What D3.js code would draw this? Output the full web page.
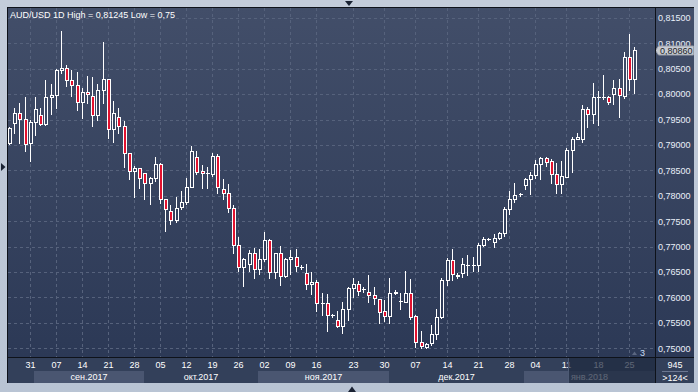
<!DOCTYPE html>
<html><head><meta charset="utf-8">
<script src="https://cdn.jsdelivr.net/npm/d3@7"></script>
<style>html,body{margin:0;padding:0;background:#bfc9d8;overflow:hidden}svg{display:block}</style>
</head><body><svg id="c" width="698" height="392"></svg>
<script>
// ---- data (AUD/USD daily candles) ----
const open = [
0.79033,0.79439,0.79623,0.79505,0.79033,0.79446,0.79584,0.79413,0.79938,0.79977,
0.80475,0.80508,0.80272,0.80174,0.79839,0.80043,0.79957,0.79584,0.80075,0.80292,
0.79308,0.79557,0.79374,0.78836,0.78482,0.78541,0.78443,0.78246,0.78344,0.78620,
0.77931,0.77695,0.77518,0.77774,0.77872,0.78180,0.78758,0.78495,0.78440,0.78430,
0.78784,0.78128,0.78049,0.77754,0.77026,0.76594,0.76653,0.76869,0.76554,0.76751,
0.77125,0.76495,0.76869,0.76430,0.76751,0.76804,0.76607,0.76476,0.76259,0.76299,
0.75886,0.75886,0.75663,0.75558,0.75446,0.75774,0.76181,0.76259,0.76161,0.76102,
0.76043,0.75964,0.75735,0.75630,0.76082,0.75931,0.75918,0.76082,0.75636,0.75118,
0.75033,0.75099,0.75276,0.75610,0.76345,0.76738,0.76430,0.76476,0.76646,0.76646,
0.76646,0.77026,0.77151,0.77085,0.77164,0.77263,0.77735,0.77931,0.78030,0.78207,
0.78325,0.78403,0.78626,0.78751,0.78685,0.78423,0.78226,0.78377,0.78902,0.79118,
0.79125,0.79702,0.79603,0.79951,0.79944,0.79951,0.79997,0.80128,0.79971,0.80725,
0.80305];
const high = [
0.79361,0.79721,0.79820,0.79938,0.79492,0.79951,0.79728,0.80279,0.80200,0.80489,
0.81245,0.80574,0.80475,0.80430,0.80115,0.80357,0.80338,0.80200,0.81026,0.80305,
0.79866,0.79728,0.79472,0.78849,0.78587,0.78554,0.78456,0.78377,0.78771,0.78639,
0.77944,0.77813,0.77977,0.78095,0.78351,0.78980,0.78876,0.78600,0.78574,0.78849,
0.78823,0.78325,0.78233,0.77813,0.77184,0.76777,0.76935,0.76981,0.76948,0.77289,
0.77151,0.76882,0.77013,0.76771,0.76935,0.76948,0.76646,0.76659,0.76495,0.76345,
0.76082,0.76069,0.75676,0.75735,0.75918,0.76213,0.76377,0.76325,0.76213,0.76443,
0.76200,0.75970,0.75951,0.76390,0.76148,0.76082,0.76522,0.76358,0.75650,0.75341,
0.75112,0.75459,0.75768,0.76390,0.76771,0.76948,0.76489,0.76777,0.76836,0.76804,
0.77079,0.77197,0.77164,0.77243,0.77295,0.77774,0.78095,0.78246,0.78049,0.78344,
0.78476,0.78705,0.78771,0.78771,0.78725,0.78639,0.78685,0.78948,0.79164,0.79230,
0.79787,0.79754,0.80226,0.80062,0.80377,0.79964,0.80279,0.80292,0.80823,0.81184,
0.80934];
const low = [
0.79020,0.79230,0.79046,0.78889,0.78692,0.79197,0.79400,0.79400,0.79610,0.79734,
0.80410,0.80167,0.79971,0.79689,0.79531,0.79833,0.79374,0.79492,0.79820,0.79131,
0.79066,0.79230,0.78574,0.78338,0.77984,0.78148,0.77938,0.77846,0.78298,0.77853,
0.77315,0.77446,0.77479,0.77735,0.77846,0.78167,0.78423,0.78161,0.78161,0.78390,
0.78056,0.77944,0.77689,0.76882,0.76528,0.76233,0.76528,0.76390,0.76463,0.76712,
0.76377,0.76390,0.76246,0.76397,0.76463,0.76528,0.76561,0.76161,0.76069,0.75741,
0.75656,0.75348,0.75623,0.75413,0.75309,0.75558,0.76017,0.76049,0.76108,0.75918,
0.75872,0.75505,0.75538,0.75505,0.76069,0.75781,0.75905,0.75571,0.75033,0.75000,
0.75013,0.75066,0.75177,0.75597,0.76246,0.76345,0.76390,0.76410,0.76443,0.76528,
0.76528,0.77020,0.77125,0.77000,0.77151,0.77217,0.77636,0.77872,0.78003,0.78135,
0.78036,0.78344,0.78331,0.78594,0.78246,0.78062,0.78062,0.78364,0.78476,0.79112,
0.79059,0.79361,0.79426,0.79394,0.79905,0.79807,0.79807,0.79557,0.79931,0.80082,
0.80030];
const close = [
0.79328,0.79623,0.79505,0.79013,0.79446,0.79702,0.79420,0.79938,0.79977,0.80475,
0.80508,0.80272,0.80174,0.79839,0.80043,0.80003,0.79584,0.80075,0.80292,0.79308,
0.79623,0.79374,0.78836,0.78482,0.78541,0.78344,0.78246,0.78344,0.78620,0.77931,
0.77735,0.77518,0.77754,0.77872,0.78180,0.78876,0.78476,0.78443,0.78440,0.78784,
0.78167,0.78049,0.77754,0.77026,0.76594,0.76751,0.76869,0.76554,0.76751,0.77125,
0.76495,0.76869,0.76430,0.76751,0.76804,0.76620,0.76607,0.76266,0.76299,0.75886,
0.75886,0.75649,0.75663,0.75446,0.75774,0.76181,0.76259,0.76135,0.76161,0.76043,
0.75984,0.75722,0.75630,0.76082,0.76115,0.75931,0.76082,0.75623,0.75118,0.75040,
0.75092,0.75276,0.75610,0.76345,0.76738,0.76456,0.76450,0.76653,0.76646,0.76646,
0.77026,0.77151,0.77151,0.77164,0.77263,0.77735,0.77931,0.78017,0.78030,0.78325,
0.78403,0.78626,0.78751,0.78659,0.78423,0.78226,0.78390,0.78902,0.79118,0.79151,
0.79702,0.79603,0.79938,0.79951,0.79944,0.79839,0.80128,0.79977,0.80725,0.80305,
0.80860];
const priceTicks = [0.750,0.755,0.760,0.765,0.770,0.775,0.780,0.785,0.790,0.795,0.800,0.805,0.810,0.815];
const dayIdx    = [4,9,14,19,24,29,34,39,44,49,54,59,66,72,78,84,90,96,101,107,113,119];
const dayLabels = ["31","07","14","21","28","05","12","19","26","02","09","16","23","30","07","14","21","28","04","11","18","25"];
const monthStartIdx = [5,26,48,73,99];
const monthLabels = ["сен.2017","окт.2017","ноя.2017","дек.2017","янв.2018"];
const titleText = "AUD/USD 1D High = 0,81245 Low = 0,75";
const totalBars = "945", visibleBars = ">124<";

// ---- layout ----
const PL=8, PR=655, PT=8, PB=357, AR=694, AB=383;
const FONT="'Liberation Sans', Arial, sans-serif";
const svg=d3.select("#c");
const defs=svg.append("defs");
const grad=defs.append("linearGradient").attr("id","bg").attr("gradientUnits","userSpaceOnUse")
  .attr("x1",0).attr("y1",PT).attr("x2",0).attr("y2",PB);
grad.append("stop").attr("offset","0").attr("stop-color","#424e69");
grad.append("stop").attr("offset","1").attr("stop-color","#2c3956");
const fgrad=defs.append("linearGradient").attr("id","frame").attr("x1",0).attr("y1",0).attr("x2",0).attr("y2",1);
fgrad.append("stop").attr("offset","0").attr("stop-color","#c3ccda");
fgrad.append("stop").attr("offset","1").attr("stop-color","#b9c4d4");
defs.append("clipPath").attr("id","clip").append("rect").attr("x",PL).attr("y",PT).attr("width",PR-PL).attr("height",PB-PT);
defs.append("clipPath").attr("id","clipx").append("rect").attr("x",PL).attr("y",PB).attr("width",PR-PL).attr("height",AB-PB);

svg.append("rect").attr("width",698).attr("height",392).attr("fill","url(#frame)");
// dark chart border
svg.append("rect").attr("x",PL-1).attr("y",PT-1).attr("width",AR-PL+1).attr("height",AB-PT+1).attr("fill","#0e121a");
// plot & right panel
svg.append("rect").attr("x",PL).attr("y",PT).attr("width",PR-PL).attr("height",PB-PT).attr("fill","url(#bg)");
svg.append("rect").attr("x",PR+1).attr("y",PT).attr("width",AR-PR-1).attr("height",PB-PT).attr("fill","url(#bg)");
// bottom axis & corner
svg.append("rect").attr("x",PL).attr("y",PB+1).attr("width",PR-PL).attr("height",AB-PB-1).attr("fill","#33405a");
svg.append("rect").attr("x",PR+1).attr("y",PB+1).attr("width",AR-PR-1).attr("height",AB-PB-1).attr("fill","#33405a");

const n=open.length;
const x=d3.scaleLinear().domain([0,n-1]).range([8.9, 8.9+5.211*(n-1)]);
const y=d3.scaleLinear().domain([0.75,0.815]).range([348.3,17.9]);
const fmt=v=>d3.format(".5f")(v).replace(".",",");

// grid
const grid=svg.append("g").attr("stroke","#56627c").attr("stroke-width",1).attr("stroke-dasharray","3,3").attr("shape-rendering","crispEdges");
grid.selectAll("line.h").data(priceTicks).join("line").attr("class","h")
  .attr("x1",PL).attr("x2",PR).attr("y1",d=>Math.round(y(d))+0.5).attr("y2",d=>Math.round(y(d))+0.5);
grid.selectAll("line.v").data(dayIdx).join("line").attr("class","v")
  .attr("x1",d=>Math.round(x(d))+0.5).attr("x2",d=>Math.round(x(d))+0.5).attr("y1",PT).attr("y2",PB);

// candles
const cg=svg.append("g").attr("clip-path","url(#clip)").attr("shape-rendering","crispEdges");
const cs=cg.selectAll("g").data(d3.range(n)).join("g");
cs.append("line")
  .attr("x1",i=>Math.round(x(i))+0.5).attr("x2",i=>Math.round(x(i))+0.5)
  .attr("y1",i=>Math.round(y(high[i]))).attr("y2",i=>Math.round(y(low[i]))+1)
  .attr("stroke","#ffffff").attr("stroke-width",1);
cs.each(function(i){
  const g=d3.select(this);
  const px=Math.round(x(i));
  const yo=y(open[i]), yc=y(close[i]);
  const top=Math.round(Math.min(yo,yc)), bot=Math.round(Math.max(yo,yc));
  const bear=close[i]<open[i];
  if(bot-top>=2){
    g.append("rect").attr("x",px-0.5).attr("y",top+0.5).attr("width",3).attr("height",bot-top)
      .attr("fill",bear?"#e2122f":"url(#bg)").attr("stroke","#ffffff").attr("stroke-width",1);
  } else {
    g.append("rect").attr("x",px-1).attr("y",top).attr("width",4).attr("height",bot-top+1).attr("fill","#ffffff");
  }
});

// title
svg.append("text").attr("x",10).attr("y",17.5).attr("font-family",FONT).attr("font-size",9)
  .attr("fill","#ffffff").text(titleText);

// right axis labels
svg.append("g").selectAll("text").data(priceTicks).join("text")
  .attr("x",658).attr("y",d=>y(d)+3.3).attr("font-family",FONT).attr("font-size",9)
  .attr("fill","#eaf0fa").text(d=>fmt(d));

// current price tag
const yp=Math.round(y(close[n-1]))+0.5;
svg.append("path").attr("d",`M${PR+0.5},${yp} L${PR+3.5},${yp-4.5} L${AR-0.5},${yp-4.5} L${AR-0.5},${yp+4.5} L${PR+3.5},${yp+4.5} Z`)
  .attr("fill","#c7cbd3").attr("stroke","#9aa0aa").attr("stroke-width",1);
svg.append("text").attr("x",660).attr("y",yp+3.3).attr("font-family",FONT).attr("font-size",9)
  .attr("fill","#1b1f27").text(fmt(close[n-1]));

// bottom axis month bands
const xg=svg.append("g").attr("clip-path","url(#clipx)");
const bands=monthStartIdx.map((s,k)=>{
  const x0=Math.round(x(s)-0.6);
  const x1=k<monthStartIdx.length-1?Math.round(x(monthStartIdx[k+1])-0.6):PR;
  return {x0,x1:Math.min(x1,PR),label:monthLabels[k],light:k%2===0};
});
xg.selectAll("rect.band").data(bands.filter(b=>b.light)).join("rect").attr("class","band")
  .attr("x",b=>b.x0).attr("y",371).attr("width",b=>b.x1-b.x0).attr("height",AB-371).attr("fill","#4a5671");
xg.selectAll("text.m").data(bands).join("text").attr("class","m")
  .attr("x",b=>(b.x0+b.x1)/2).attr("y",379.5).attr("text-anchor","middle")
  .attr("font-family",FONT).attr("font-size",9).attr("fill","#ffffff").text(b=>b.label);
xg.selectAll("text.d").data(dayIdx).join("text").attr("class","d")
  .attr("x",d=>Math.round(x(d))+0.5).attr("y",368.3).attr("text-anchor","middle")
  .attr("font-family",FONT).attr("font-size",9).attr("fill","#ffffff").text((d,k)=>dayLabels[k]);
// scroll overlay region
svg.append("rect").attr("x",568).attr("y",PB+1).attr("width",PR-568).attr("height",AB-PB-1)
  .attr("fill","#1f2a40").attr("opacity",0.72);
svg.append("line").attr("x1",568.5).attr("x2",568.5).attr("y1",PB+1).attr("y2",AB)
  .attr("stroke","#4d5a74").attr("stroke-width",1);

// corner info
svg.append("text").attr("x",675).attr("y",368).attr("text-anchor","middle").attr("font-family",FONT)
  .attr("font-size",9).attr("fill","#ffffff").text(totalBars);
svg.append("line").attr("x1",662).attr("x2",688).attr("y1",371.5).attr("y2",371.5).attr("stroke","#6b7791");
svg.append("text").attr("x",675).attr("y",380.8).attr("text-anchor","middle").attr("font-family",FONT)
  .attr("font-size",9).attr("fill","#ffffff").text(visibleBars);

// small marker "3"
svg.append("path").attr("d","M632,355 L634.5,351.5 L637,355 Z").attr("fill","#5b6781");
svg.append("text").attr("x",640).attr("y",355.5).attr("font-family",FONT).attr("font-size",9)
  .attr("fill","#c9dcf5").text("3");

// frame arrows
svg.append("path").attr("d","M345,1 L353,1 L349,6 Z").attr("fill","#1a2233");
svg.append("path").attr("d","M348,392 L356,392 L352,386.5 Z").attr("fill","#1a2233");
svg.append("path").attr("d","M1,163 L1,171 L5.5,167 Z").attr("fill","#1a2233");

// separator lines (plot/axis)
svg.append("line").attr("x1",PR+0.5).attr("x2",PR+0.5).attr("y1",PT).attr("y2",AB).attr("stroke","#0e121a");
svg.append("line").attr("x1",PL).attr("x2",AR).attr("y1",PB+0.5).attr("y2",PB+0.5).attr("stroke","#0e121a");
</script></body></html>
